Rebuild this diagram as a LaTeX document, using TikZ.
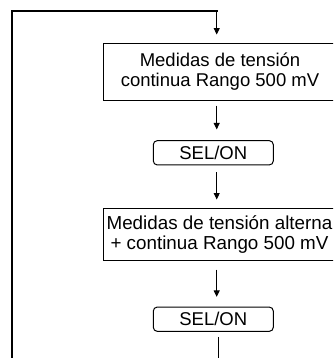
\documentclass[tikz,border=0pt]{standalone}
\usepackage{fontspec}
\setmainfont{Liberation Sans}
\usetikzlibrary{arrows.meta}
\begin{document}
\begin{tikzpicture}[x=1pt,y=1pt,
  boxstyle/.style={draw, line width=1pt, rectangle, align=center, inner sep=0pt,
    font=\fontsize{18.5}{19.5}\selectfont},
  selbox/.style={draw, line width=1pt, rounded corners=4pt, inner sep=0pt,
    minimum width=120pt, minimum height=24.3pt, font=\fontsize{18.5}{20}\selectfont},
  arr/.style={line width=1pt, -{Triangle[width=6pt,length=6.5pt]}},
  loopline/.style={line width=1.7pt}]
\useasboundingbox (0,0) rectangle (333,-358);
\clip (0,0) rectangle (333,-358);
\coordinate (col) at (216.7,0);
\coordinate (colb) at (218,0);
\node[boxstyle, minimum width=233.4pt, minimum height=56.7pt] (box1) at (220,-71.7)
  {Medidas de tensión\\continua Rango 500 mV};
\node[selbox] (sel1) at (213.3,-152.8) {SEL/ON};
\node[boxstyle, minimum width=231.4pt, minimum height=52.4pt,
  font=\fontsize{18.8}{19.5}\selectfont] (box2) at (219.5,-234.5)
  {Medidas de tensión alterna\\+ continua Rango 500 mV};
\node[selbox] (sel2) at (213.3,-319.2) {SEL/ON};
\coordinate (lbot) at (12.3,-370);
\coordinate (ltop) at (12.3,-10.7);
\coordinate (rtop) at (216.7,-10.7);
\coordinate (cbot) at (218,-370);
\draw[loopline] (lbot) -- (ltop) -- ([xshift=0.8pt]rtop);
\draw[arr, shorten >=8.3pt] (rtop) -- (box1.north -| col);
\draw[arr, shorten <=5pt, shorten >=10.7pt] (box1.south -| col) -- (sel1.north -| col);
\draw[arr, shorten <=6.7pt, shorten >=8.3pt] (sel1.south -| col) -- (box2.north -| col);
\draw[arr, shorten <=8.3pt, shorten >=9.7pt] (box2.south -| col) -- (sel2.north -| col);
\draw[line width=1pt, shorten <=5pt] (sel2.south -| colb) -- (cbot);
\end{tikzpicture}
\end{document}
